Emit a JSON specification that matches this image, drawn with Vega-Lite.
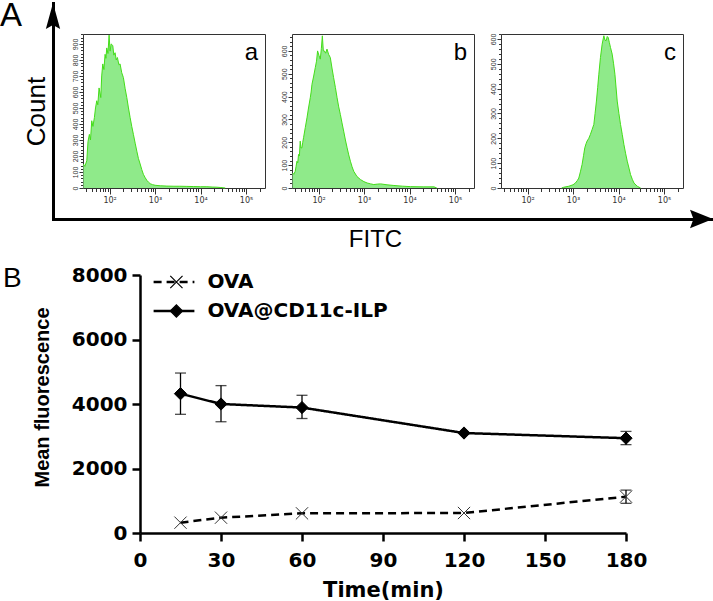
{
  "$schema": "https://vega.github.io/schema/vega-lite/v6.json",
  "padding": 0,
  "background": "white",
  "spacing": 14,
  "resolve": {"legend": {"shape": "independent", "strokeDash": "independent"}},
  "config": {
    "view": {"stroke": null},
    "font": "Liberation Sans",
    "axis": {"grid": false, "labelFlush": false, "labelBound": false}
  },
  "datasets": {
    "hist": [
      {"panel": "a", "fitc": 26.5, "count": 150}, {"panel": "a", "fitc": 28.5, "count": 135}, {"panel": "a", "fitc": 31.5, "count": 170}, {"panel": "a", "fitc": 33.5, "count": 290},
      {"panel": "a", "fitc": 35.9, "count": 335}, {"panel": "a", "fitc": 38, "count": 300}, {"panel": "a", "fitc": 40.5, "count": 420}, {"panel": "a", "fitc": 43, "count": 385},
      {"panel": "a", "fitc": 46.3, "count": 440}, {"panel": "a", "fitc": 49, "count": 500}, {"panel": "a", "fitc": 52.2, "count": 545}, {"panel": "a", "fitc": 55, "count": 520},
      {"panel": "a", "fitc": 58.7, "count": 625}, {"panel": "a", "fitc": 64, "count": 565}, {"panel": "a", "fitc": 67, "count": 700}, {"panel": "a", "fitc": 70.8, "count": 775},
      {"panel": "a", "fitc": 75, "count": 740}, {"panel": "a", "fitc": 79.6, "count": 835}, {"panel": "a", "fitc": 83, "count": 810}, {"panel": "a", "fitc": 86.7, "count": 875},
      {"panel": "a", "fitc": 92, "count": 840}, {"panel": "a", "fitc": 97.5, "count": 955}, {"panel": "a", "fitc": 102.6, "count": 855}, {"panel": "a", "fitc": 108, "count": 900},
      {"panel": "a", "fitc": 117.5, "count": 890}, {"panel": "a", "fitc": 124, "count": 830}, {"panel": "a", "fitc": 132, "count": 845}, {"panel": "a", "fitc": 140, "count": 800},
      {"panel": "a", "fitc": 148.6, "count": 815}, {"panel": "a", "fitc": 160, "count": 770}, {"panel": "a", "fitc": 170, "count": 775}, {"panel": "a", "fitc": 185, "count": 720},
      {"panel": "a", "fitc": 201, "count": 690}, {"panel": "a", "fitc": 220, "count": 620}, {"panel": "a", "fitc": 239, "count": 565}, {"panel": "a", "fitc": 260, "count": 500},
      {"panel": "a", "fitc": 283, "count": 440}, {"panel": "a", "fitc": 307, "count": 385}, {"panel": "a", "fitc": 334, "count": 335}, {"panel": "a", "fitc": 365, "count": 280},
      {"panel": "a", "fitc": 397, "count": 230}, {"panel": "a", "fitc": 430, "count": 185}, {"panel": "a", "fitc": 470, "count": 150}, {"panel": "a", "fitc": 510, "count": 115},
      {"panel": "a", "fitc": 555, "count": 85}, {"panel": "a", "fitc": 605, "count": 65}, {"panel": "a", "fitc": 659, "count": 48}, {"panel": "a", "fitc": 720, "count": 36},
      {"panel": "a", "fitc": 780, "count": 27}, {"panel": "a", "fitc": 880, "count": 21}, {"panel": "a", "fitc": 1005, "count": 17}, {"panel": "a", "fitc": 1300, "count": 14},
      {"panel": "a", "fitc": 1820, "count": 12}, {"panel": "a", "fitc": 2600, "count": 11}, {"panel": "a", "fitc": 3500, "count": 11}, {"panel": "a", "fitc": 5010, "count": 10},
      {"panel": "a", "fitc": 7000, "count": 9}, {"panel": "a", "fitc": 10000, "count": 8}, {"panel": "a", "fitc": 13800, "count": 8}, {"panel": "a", "fitc": 18000, "count": 6},
      {"panel": "a", "fitc": 23000, "count": 5}, {"panel": "a", "fitc": 28000, "count": 3}, {"panel": "a", "fitc": 35000, "count": 0},

      {"panel": "b", "fitc": 26.7, "count": 66}, {"panel": "b", "fitc": 28.5, "count": 60}, {"panel": "b", "fitc": 30.6, "count": 73}, {"panel": "b", "fitc": 32, "count": 95},
      {"panel": "b", "fitc": 33.4, "count": 117}, {"panel": "b", "fitc": 34.8, "count": 110}, {"panel": "b", "fitc": 36.2, "count": 147}, {"panel": "b", "fitc": 37.8, "count": 140},
      {"panel": "b", "fitc": 39.4, "count": 205}, {"panel": "b", "fitc": 41, "count": 175}, {"panel": "b", "fitc": 43, "count": 176}, {"panel": "b", "fitc": 44.8, "count": 200},
      {"panel": "b", "fitc": 46.7, "count": 220}, {"panel": "b", "fitc": 51, "count": 265}, {"panel": "b", "fitc": 55.5, "count": 307}, {"panel": "b", "fitc": 60, "count": 350},
      {"panel": "b", "fitc": 65.6, "count": 395}, {"panel": "b", "fitc": 68.5, "count": 420}, {"panel": "b", "fitc": 71.5, "count": 454}, {"panel": "b", "fitc": 78, "count": 490},
      {"panel": "b", "fitc": 84.6, "count": 527}, {"panel": "b", "fitc": 90, "count": 555}, {"panel": "b", "fitc": 95, "count": 600}, {"panel": "b", "fitc": 102, "count": 580},
      {"panel": "b", "fitc": 109, "count": 564}, {"panel": "b", "fitc": 115, "count": 610}, {"panel": "b", "fitc": 121, "count": 666}, {"panel": "b", "fitc": 127, "count": 600},
      {"panel": "b", "fitc": 134, "count": 600}, {"panel": "b", "fitc": 143, "count": 590}, {"panel": "b", "fitc": 153, "count": 608}, {"panel": "b", "fitc": 166, "count": 585},
      {"panel": "b", "fitc": 181, "count": 571}, {"panel": "b", "fitc": 197, "count": 525}, {"panel": "b", "fitc": 214, "count": 483}, {"panel": "b", "fitc": 234, "count": 440},
      {"panel": "b", "fitc": 255, "count": 395}, {"panel": "b", "fitc": 277, "count": 355}, {"panel": "b", "fitc": 301, "count": 322}, {"panel": "b", "fitc": 327, "count": 285},
      {"panel": "b", "fitc": 356, "count": 249}, {"panel": "b", "fitc": 389, "count": 210}, {"panel": "b", "fitc": 424, "count": 176}, {"panel": "b", "fitc": 460, "count": 145},
      {"panel": "b", "fitc": 501, "count": 117}, {"panel": "b", "fitc": 545, "count": 93}, {"panel": "b", "fitc": 593, "count": 73}, {"panel": "b", "fitc": 700, "count": 50},
      {"panel": "b", "fitc": 833, "count": 37}, {"panel": "b", "fitc": 990, "count": 28}, {"panel": "b", "fitc": 1170, "count": 22}, {"panel": "b", "fitc": 1400, "count": 18},
      {"panel": "b", "fitc": 1637, "count": 15}, {"panel": "b", "fitc": 1950, "count": 17}, {"panel": "b", "fitc": 2300, "count": 18}, {"panel": "b", "fitc": 3200, "count": 14},
      {"panel": "b", "fitc": 4530, "count": 11}, {"panel": "b", "fitc": 7000, "count": 8}, {"panel": "b", "fitc": 10600, "count": 6}, {"panel": "b", "fitc": 20000, "count": 5},
      {"panel": "b", "fitc": 34600, "count": 5}, {"panel": "b", "fitc": 39800, "count": 0},

      {"panel": "c", "fitc": 560, "count": 0}, {"panel": "c", "fitc": 623, "count": 3}, {"panel": "c", "fitc": 804, "count": 7}, {"panel": "c", "fitc": 1000, "count": 13},
      {"panel": "c", "fitc": 1125, "count": 20}, {"panel": "c", "fitc": 1240, "count": 30}, {"panel": "c", "fitc": 1337, "count": 40}, {"panel": "c", "fitc": 1450, "count": 65},
      {"panel": "c", "fitc": 1581, "count": 95}, {"panel": "c", "fitc": 1700, "count": 130}, {"panel": "c", "fitc": 1813, "count": 162}, {"panel": "c", "fitc": 1930, "count": 178},
      {"panel": "c", "fitc": 2037, "count": 189}, {"panel": "c", "fitc": 2220, "count": 200}, {"panel": "c", "fitc": 2411, "count": 216}, {"panel": "c", "fitc": 2620, "count": 235},
      {"panel": "c", "fitc": 2865, "count": 256}, {"panel": "c", "fitc": 3050, "count": 300}, {"panel": "c", "fitc": 3267, "count": 350}, {"panel": "c", "fitc": 3480, "count": 405},
      {"panel": "c", "fitc": 3690, "count": 458}, {"panel": "c", "fitc": 4006, "count": 525}, {"panel": "c", "fitc": 4366, "count": 579}, {"panel": "c", "fitc": 4760, "count": 613},
      {"panel": "c", "fitc": 5050, "count": 595}, {"panel": "c", "fitc": 5350, "count": 593}, {"panel": "c", "fitc": 5650, "count": 610}, {"panel": "c", "fitc": 5925, "count": 606},
      {"panel": "c", "fitc": 6300, "count": 585}, {"panel": "c", "fitc": 6655, "count": 566}, {"panel": "c", "fitc": 7255, "count": 539}, {"panel": "c", "fitc": 7800, "count": 500},
      {"panel": "c", "fitc": 8335, "count": 458}, {"panel": "c", "fitc": 9360, "count": 350}, {"panel": "c", "fitc": 10200, "count": 300}, {"panel": "c", "fitc": 11070, "count": 256},
      {"panel": "c", "fitc": 12100, "count": 215}, {"panel": "c", "fitc": 13150, "count": 175}, {"panel": "c", "fitc": 14300, "count": 140}, {"panel": "c", "fitc": 15560, "count": 108},
      {"panel": "c", "fitc": 17000, "count": 80}, {"panel": "c", "fitc": 18400, "count": 54}, {"panel": "c", "fitc": 20100, "count": 35}, {"panel": "c", "fitc": 21880, "count": 20},
      {"panel": "c", "fitc": 25880, "count": 7}, {"panel": "c", "fitc": 30620, "count": 0}
    ],
    "fluor": [
      {"series": "OVA", "time": 15, "mean": 320},
      {"series": "OVA", "time": 30, "mean": 475},
      {"series": "OVA", "time": 60, "mean": 610},
      {"series": "OVA", "time": 120, "mean": 620},
      {"series": "OVA", "time": 180, "mean": 1127, "lo": 920, "hi": 1330},
      {"series": "OVA@CD11c-ILP", "time": 15, "mean": 4320, "lo": 3680, "hi": 4960},
      {"series": "OVA@CD11c-ILP", "time": 30, "mean": 4000, "lo": 3450, "hi": 4570},
      {"series": "OVA@CD11c-ILP", "time": 60, "mean": 3890, "lo": 3550, "hi": 4270},
      {"series": "OVA@CD11c-ILP", "time": 120, "mean": 3100},
      {"series": "OVA@CD11c-ILP", "time": 180, "mean": 2940, "lo": 2740, "hi": 3150}
    ]
  },
  "vconcat": [
    {
      "hconcat": [
        {
          "width": 3,
          "height": 216,
          "data": {"values": [{"label": "A"}]},
          "layer": [
            {
              "mark": {"type": "point", "shape": "M0,0L0.55,2L0,1.7L-0.55,2Z", "filled": true, "color": "black", "size": 676, "opacity": 1},
              "encoding": {
                "x": {"datum": 0, "type": "quantitative", "scale": {"domain": [0, 1], "range": [0, 660]},
                  "axis": {"title": "FITC", "orient": "bottom", "labels": false, "ticks": false, "domain": true, "domainColor": "black", "domainWidth": 3, "domainCap": "square", "titleFont": "Liberation Sans", "titleFontSize": 24, "titleFontWeight": "normal", "titleColor": "black", "titlePadding": 8, "titleX": 322}},
                "y": {"datum": 1, "type": "quantitative", "scale": {"domain": [0, 1]},
                  "axis": {"title": "Count", "orient": "left", "labels": false, "ticks": false, "domain": true, "domainColor": "black", "domainWidth": 3, "domainCap": "square", "titleFont": "Liberation Sans", "titleFontSize": 26, "titleFontWeight": "normal", "titleColor": "black", "titlePadding": 4}}
              }
            },
            {
              "mark": {"type": "point", "shape": "M0,0L-2,-0.8L-1.7,0L-2,0.8Z", "filled": true, "color": "black", "size": 529, "opacity": 1},
              "encoding": {
                "x": {"datum": 1, "type": "quantitative"},
                "y": {"datum": 0, "type": "quantitative"}
              }
            },
            {
              "mark": {"type": "text", "align": "left", "baseline": "alphabetic", "dx": -53, "dy": 23, "font": "Liberation Sans", "fontSize": 33, "fontWeight": "normal", "color": "black"},
              "encoding": {
                "text": {"field": "label", "type": "nominal"},
                "x": {"datum": 0, "type": "quantitative"},
                "y": {"datum": 1, "type": "quantitative"}
              }
            }
          ]
        },
        {
          "width": 182, "height": 154,
          "view": {"stroke": "#333", "strokeWidth": 1},
          "data": {"name": "hist"},
          "transform": [{"filter": "datum.panel === 'a'"}],
          "encoding": {
            "x": {"field": "fitc", "type": "quantitative", "scale": {"type": "log", "domain": [26, 262144], "nice": false},
              "axis": {"title": null, "domain": false, "values": [30,40,50,60,70,80,90,100,200,300,400,500,600,700,800,900,1000,2000,3000,4000,5000,6000,7000,8000,9000,10000,20000,30000,40000,50000,60000,70000,80000,90000,100000,200000],
                "labelExpr": "datum.value == 100 ? '10²' : datum.value == 1000 ? '10³' : datum.value == 10000 ? '10⁴' : datum.value == 100000 ? '10⁵' : ''",
                "labelFont": "DejaVu Sans", "labelFontSize": 8, "labelColor": "#333", "labelPadding": 2, "labelOverlap": false,
                "tickColor": "#333", "tickWidth": 1, "tickSize": {"condition": {"test": "datum.value == 100 || datum.value == 1000 || datum.value == 10000 || datum.value == 100000", "value": 6}, "value": 3.5}}},
            "y": {"field": "count", "type": "quantitative", "scale": {"domain": [0, 962], "nice": false},
              "axis": {"title": null, "domain": false, "values": [0,20,40,60,80,100,120,140,160,180,200,220,240,260,280,300,320,340,360,380,400,420,440,460,480,500,520,540,560,580,600,620,640,660,680,700,720,740,760,780,800,820,840,860,880,900,920,940,960],
                "labelExpr": "datum.value % 100 == 0 ? datum.label : ''", "labelAngle": -90, "labelFont": "Liberation Sans", "labelFontSize": 7, "labelColor": "#333", "labelPadding": 1, "labelOverlap": false,
                "tickColor": "#333", "tickWidth": 1, "tickSize": {"condition": {"test": "datum.value % 100 == 0", "value": 4}, "value": 2.5}}}
          },
          "layer": [
            {"mark": {"type": "area", "color": "#8FEA8A", "opacity": 1, "line": {"color": "#44DD1A", "strokeWidth": 1}}},
            {"transform": [{"aggregate": [{"op": "max", "field": "fitc", "as": "fitc"}, {"op": "max", "field": "count", "as": "count"}], "groupby": ["panel"]}],
             "mark": {"type": "text", "align": "right", "baseline": "alphabetic", "dx": -7, "dy": 26, "font": "Liberation Sans", "fontSize": 24, "fontWeight": "normal", "color": "black"},
             "encoding": {"text": {"field": "panel", "type": "nominal"}, "x": {"datum": 262144, "type": "quantitative"}, "y": {"datum": 962, "type": "quantitative"}}}
          ]
        },
        {
          "width": 182, "height": 154,
          "view": {"stroke": "#333", "strokeWidth": 1},
          "data": {"name": "hist"},
          "transform": [{"filter": "datum.panel === 'b'"}],
          "encoding": {
            "x": {"field": "fitc", "type": "quantitative", "scale": {"type": "log", "domain": [26, 262144], "nice": false},
              "axis": {"title": null, "domain": false, "values": [30,40,50,60,70,80,90,100,200,300,400,500,600,700,800,900,1000,2000,3000,4000,5000,6000,7000,8000,9000,10000,20000,30000,40000,50000,60000,70000,80000,90000,100000,200000],
                "labelExpr": "datum.value == 100 ? '10²' : datum.value == 1000 ? '10³' : datum.value == 10000 ? '10⁴' : datum.value == 100000 ? '10⁵' : ''",
                "labelFont": "DejaVu Sans", "labelFontSize": 8, "labelColor": "#333", "labelPadding": 2, "labelOverlap": false,
                "tickColor": "#333", "tickWidth": 1, "tickSize": {"condition": {"test": "datum.value == 100 || datum.value == 1000 || datum.value == 10000 || datum.value == 100000", "value": 6}, "value": 3.5}}},
            "y": {"field": "count", "type": "quantitative", "scale": {"domain": [0, 674], "nice": false},
              "axis": {"title": null, "domain": false, "values": [0,20,40,60,80,100,120,140,160,180,200,220,240,260,280,300,320,340,360,380,400,420,440,460,480,500,520,540,560,580,600,620,640,660],
                "labelExpr": "datum.value % 100 == 0 ? datum.label : ''", "labelAngle": -90, "labelFont": "Liberation Sans", "labelFontSize": 7, "labelColor": "#333", "labelPadding": 1, "labelOverlap": false,
                "tickColor": "#333", "tickWidth": 1, "tickSize": {"condition": {"test": "datum.value % 100 == 0", "value": 4}, "value": 2.5}}}
          },
          "layer": [
            {"mark": {"type": "area", "color": "#8FEA8A", "opacity": 1, "line": {"color": "#44DD1A", "strokeWidth": 1}}},
            {"transform": [{"aggregate": [{"op": "max", "field": "fitc", "as": "fitc"}, {"op": "max", "field": "count", "as": "count"}], "groupby": ["panel"]}],
             "mark": {"type": "text", "align": "right", "baseline": "alphabetic", "dx": -7, "dy": 26, "font": "Liberation Sans", "fontSize": 24, "fontWeight": "normal", "color": "black"},
             "encoding": {"text": {"field": "panel", "type": "nominal"}, "x": {"datum": 262144, "type": "quantitative"}, "y": {"datum": 674, "type": "quantitative"}}}
          ]
        },
        {
          "width": 182, "height": 154,
          "view": {"stroke": "#333", "strokeWidth": 1},
          "data": {"name": "hist"},
          "transform": [{"filter": "datum.panel === 'c'"}],
          "encoding": {
            "x": {"field": "fitc", "type": "quantitative", "scale": {"type": "log", "domain": [26, 262144], "nice": false},
              "axis": {"title": null, "domain": false, "values": [30,40,50,60,70,80,90,100,200,300,400,500,600,700,800,900,1000,2000,3000,4000,5000,6000,7000,8000,9000,10000,20000,30000,40000,50000,60000,70000,80000,90000,100000,200000],
                "labelExpr": "datum.value == 100 ? '10²' : datum.value == 1000 ? '10³' : datum.value == 10000 ? '10⁴' : datum.value == 100000 ? '10⁵' : ''",
                "labelFont": "DejaVu Sans", "labelFontSize": 8, "labelColor": "#333", "labelPadding": 2, "labelOverlap": false,
                "tickColor": "#333", "tickWidth": 1, "tickSize": {"condition": {"test": "datum.value == 100 || datum.value == 1000 || datum.value == 10000 || datum.value == 100000", "value": 6}, "value": 3.5}}},
            "y": {"field": "count", "type": "quantitative", "scale": {"domain": [0, 620], "nice": false},
              "axis": {"title": null, "domain": false, "values": [0,20,40,60,80,100,120,140,160,180,200,220,240,260,280,300,320,340,360,380,400,420,440,460,480,500,520,540,560,580,600,620],
                "labelExpr": "datum.value % 100 == 0 ? datum.label : ''", "labelAngle": -90, "labelFont": "Liberation Sans", "labelFontSize": 7, "labelColor": "#333", "labelPadding": 1, "labelOverlap": false,
                "tickColor": "#333", "tickWidth": 1, "tickSize": {"condition": {"test": "datum.value % 100 == 0", "value": 4}, "value": 2.5}}}
          },
          "layer": [
            {"mark": {"type": "area", "color": "#8FEA8A", "opacity": 1, "line": {"color": "#44DD1A", "strokeWidth": 1}}},
            {"transform": [{"aggregate": [{"op": "max", "field": "fitc", "as": "fitc"}, {"op": "max", "field": "count", "as": "count"}], "groupby": ["panel"]}],
             "mark": {"type": "text", "align": "right", "baseline": "alphabetic", "dx": -7, "dy": 26, "font": "Liberation Sans", "fontSize": 24, "fontWeight": "normal", "color": "black"},
             "encoding": {"text": {"field": "panel", "type": "nominal"}, "x": {"datum": 262144, "type": "quantitative"}, "y": {"datum": 620, "type": "quantitative"}}}
          ]
        }
      ],
      "spacing": 27,
      "bounds": "flush",
      "center": true
    },
    {
      "width": 573,
      "height": 258,
      "data": {"name": "fluor"},
      "encoding": {
        "x": {"field": "time", "type": "quantitative", "title": "Time(min)",
          "scale": {"domain": [0, 180], "nice": false, "range": [87, 573]},
          "axis": {"values": [0, 30, 60, 90, 120, 150, 180], "domainColor": "black", "domainWidth": 2.5, "tickColor": "black", "tickWidth": 2.5, "tickSize": 8,
            "labelFont": "DejaVu Sans", "labelFontWeight": "bold", "labelFontSize": 20, "labelColor": "black", "labelPadding": 9,
            "titleFont": "DejaVu Sans", "titleFontWeight": "bold", "titleFontSize": 21, "titleColor": "black", "titlePadding": 9}},
        "y": {"field": "mean", "type": "quantitative", "title": "Mean fluorescence",
          "scale": {"domain": [0, 8000], "nice": false},
          "axis": {"offset": -87, "values": [0, 2000, 4000, 6000, 8000], "format": "d", "domainColor": "black", "domainWidth": 2.5, "tickColor": "black", "tickWidth": 2.5, "tickSize": 8,
            "labelFont": "DejaVu Sans", "labelFontWeight": "bold", "labelFontSize": 20, "labelColor": "black", "labelPadding": 5,
            "titleFont": "Liberation Sans", "titleFontWeight": "bold", "titleFontSize": 20, "titleColor": "black", "titlePadding": 19, "titleY": 122}}
      },
      "layer": [
        {
          "mark": {"type": "line", "color": "black", "strokeWidth": 2.5},
          "encoding": {
            "strokeDash": {"field": "series", "type": "nominal", "scale": {"range": [[8, 5], [1, 0]]},
              "legend": {"title": null, "orient": "none", "legendX": 111, "legendY": -3, "padding": 0,
                "symbolType": "M-2.4,0H2.4", "symbolSize": 289, "symbolStrokeWidth": 2.5, "symbolStrokeColor": "black",
                "labelFont": "DejaVu Sans", "labelFontWeight": "bold", "labelFontSize": 20, "labelOpacity": 0, "labelLimit": 400,
                "rowPadding": 9, "labelOffset": 21}}
          }
        },
        {
          "transform": [{"filter": "isValid(datum.lo)"}],
          "mark": {"type": "errorbar", "color": "black", "thickness": 1.3, "ticks": {"size": 11, "thickness": 1.3, "color": "black"}},
          "encoding": {
            "y": {"field": "lo", "type": "quantitative", "title": "Mean fluorescence"},
            "y2": {"field": "hi"}
          }
        },
        {
          "mark": {"type": "point", "opacity": 1, "strokeWidth": 1, "size": 150},
          "encoding": {
            "shape": {"field": "series", "type": "nominal",
              "scale": {"domain": ["OVA", "OVA@CD11c-ILP"], "range": ["M-1,-1L1,1M-1,1L1,-1", "diamond"]},
              "legend": {"title": null, "orient": "none", "legendX": 113.4, "legendY": -3, "padding": 0,
                "labelFont": "DejaVu Sans", "labelFontWeight": "bold", "labelFontSize": 20, "labelColor": "black", "labelLimit": 400,
                "symbolSize": 150, "symbolStrokeWidth": 1.2, "rowPadding": 9, "labelOffset": 21}},
            "fill": {"condition": {"test": "datum.series === 'OVA'", "value": "transparent"}, "value": "black"},
            "stroke": {"condition": {"test": "datum.series === 'OVA'", "value": "#333333"}, "value": "black"}
          }
        },
        {
          "transform": [{"aggregate": [{"op": "max", "field": "time", "as": "time"}, {"op": "max", "field": "mean", "as": "mean"}]}],
          "mark": {"type": "text", "text": "B", "align": "left", "baseline": "alphabetic", "dx": -137, "dy": 12, "font": "Liberation Sans", "fontSize": 28, "fontWeight": "normal", "color": "black"},
          "encoding": {
            "x": {"datum": 0, "type": "quantitative"},
            "y": {"datum": 8000, "type": "quantitative"}
          }
        }
      ]
    }
  ]
}
